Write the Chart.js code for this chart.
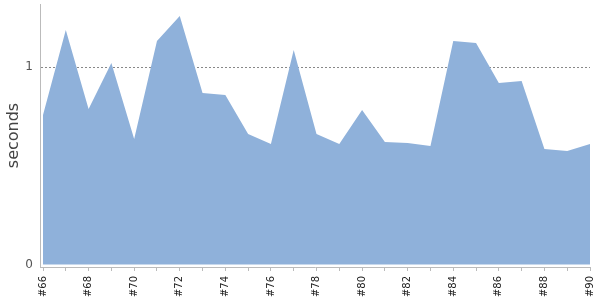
<!DOCTYPE html>
<html>
<head>
<meta charset="utf-8">
<script src="https://cdn.jsdelivr.net/npm/chart.js@4"></script>
<style>
  html, body { margin: 0; padding: 0; background: #fff; }
  #wrap { width: 600px; height: 300px; }
</style>
</head>
<body>
<div id="wrap"><canvas id="durChart"></canvas></div>
<script>
// --- data ---
const builds  = ['#66','#67','#68','#69','#70','#71','#72','#73','#74','#75','#76','#77','#78',
                 '#79','#80','#81','#82','#83','#84','#85','#86','#87','#88','#89','#90'];
const seconds = [0.758, 1.189, 0.789, 1.022, 0.636, 1.133, 1.260, 0.870, 0.860, 0.662, 0.611, 1.088, 0.662,
                 0.611, 0.783, 0.621, 0.616, 0.601, 1.133, 1.123, 0.920, 0.930, 0.586, 0.576, 0.611];
const yTicks  = [0, 1];

const points = builds.map((b, i) => ({ x: i, y: seconds[i] }));

const ctx = document.getElementById('durChart').getContext('2d');

new Chart(ctx, {
  type: 'line',
  data: {
    datasets: [{
      label: 'seconds',
      data: points,
      fill: 'origin',
      backgroundColor: 'rgb(143,177,218)',
      borderWidth: 0,
      borderColor: 'rgba(0,0,0,0)',
      pointRadius: 0,
      tension: 0
    }]
  },
  options: {
    responsive: true,
    maintainAspectRatio: false,
    animation: false,
    layout: { padding: { top: 4, right: 10, left: 0, bottom: 0 } },
    plugins: { legend: { display: false }, tooltip: { enabled: false } },
    scales: {
      x: {
        type: 'linear',
        min: -0.132,
        max: builds.length - 1,
        afterBuildTicks: s => { s.ticks = builds.map((b, i) => ({ value: i })); },
        afterFit: s => { s.height = 33; s.paddingLeft = 0; s.paddingRight = 0; },
        grid: { drawOnChartArea: false, tickLength: 4, color: '#bbb' },
        border: { color: '#bbb' },
        ticks: {
          autoSkip: false,
          minRotation: 90,
          maxRotation: 90,
          padding: 5,
          color: '#222',
          font: { family: 'DejaVu Sans', size: 10 },
          callback: v => (v % 2 === 0 ? builds[v] : '')
        }
      },
      y: {
        min: -0.0127,
        max: 1.321,
        afterBuildTicks: s => { s.ticks = yTicks.map(v => ({ value: v })); },
        afterFit: s => { s.width = 40; s.paddingTop = 0; s.paddingBottom = 0; },
        grid: {
          drawTicks: false,
          color: c => (c.tick && c.tick.value === 1 ? '#888' : 'rgba(0,0,0,0)'),
          lineWidth: 1
        },
        border: { color: '#bbb', dash: [2, 2] },
        ticks: {
          padding: 7,
          color: '#555',
          font: { family: 'DejaVu Sans', size: 12 }
        },
        title: {
          display: true,
          text: 'seconds',
          color: '#444',
          padding: { top: 4, bottom: 0 },
          font: { family: 'DejaVu Sans', size: 16 }
        }
      }
    }
  }
});
</script>
</body>
</html>
